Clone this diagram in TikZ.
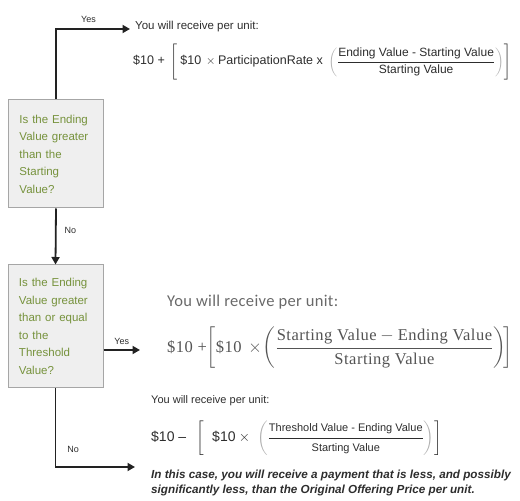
\documentclass[tikz,border=0pt]{standalone}
\usepackage{amsmath}
\usepackage{fontspec}
\setmainfont{Liberation Sans}
\newfontfamily\cambriaish[LetterSpace=3]{Liberation Serif}
\newfontfamily\calibriish[LetterSpace=2]{Carlito}
\usepackage{xcolor}
\usetikzlibrary{arrows.meta,positioning}
\definecolor{qgreen}{RGB}{118,146,60}
\definecolor{qfill}{RGB}{239,239,239}
\definecolor{qborder}{RGB}{166,166,166}
\definecolor{flowgray}{RGB}{34,34,34}
\definecolor{inkgray}{RGB}{45,45,45}
\definecolor{softgray}{RGB}{105,105,105}
\definecolor{parengray}{RGB}{175,175,175}
\newcommand\fracfont{\fontsize{12}{14}\selectfont}
\newcommand\smallfracfont{\fontsize{11}{13}\selectfont}
\newcommand\tallstrut{\vphantom{\rule[-14pt]{0pt}{33pt}}}

\begin{document}
\begin{tikzpicture}[
    x=1pt, y=1pt,
    question/.style={rectangle, draw=qborder, fill=qfill, line width=1pt, minimum width=95pt, text width=73pt, inner xsep=11pt, align=left, text=qgreen, font=\fontsize{11.5}{17.5}\selectfont},
    flow/.style={line width=1.8pt, draw=flowgray, -{Triangle[length=7.5pt, width=8pt]}},
    answer/.style={inner sep=0pt, text=inkgray, font=\fontsize{9}{10}\selectfont},
    payout/.style={anchor=west, inner sep=0pt, text=inkgray, font=\fontsize{12.5}{15}\selectfont}
]
    \useasboundingbox (0,0) rectangle (520,501);

    % Decisions
    \node[question, minimum height=108pt] (above) at (56,347) {Is the Ending\\Value greater\\than the\\Starting\\Value?};
    \node[question, minimum height=123pt] (threshold) at (55.5,174.5) {Is the Ending\\Value greater\\than or equal\\to the\\Threshold\\Value?};

    % Outcome 1
    \node[payout, font=\fontsize{11.5}{14}\selectfont] (receive1) at (135,474) {You will receive per unit:};
    \node[payout] (payout1) at (133,439) {$\text{\$10 +}\;\left[\tallstrut\;\text{\$10}\,\times\text{ParticipationRate x}\;\color{parengray}\left(\color{inkgray}\dfrac{\text{\fracfont Ending Value - Starting Value}}{\text{\fracfont Starting Value}}\color{parengray}\right)\color{inkgray}\right]$};

    % Outcome 2
    \node[payout, text=softgray, font=\calibriish\fontsize{16.5}{19}\selectfont] (receive2) at (167,199) {You will receive per unit:};
    \node[payout, text=softgray!80!black, font=\cambriaish\fontsize{16.5}{19}\selectfont] (payout2) at (167,153) {$\text{\$10 +}\biggl[\text{\$10}\,\times\!\biggl(\dfrac{\text{Starting Value} - \text{Ending Value}}{\text{Starting Value}}\biggr)\!\biggr]$};

    % Outcome 3
    \node[payout, font=\fontsize{11}{13}\selectfont] (receive3) at (151,100) {You will receive per unit:};
    \node[payout, font=\fontsize{14}{16}\selectfont] (payout3) at (151,63) {$\text{\$10 --}\;\;\left[\tallstrut\;\;\text{\$10}\times\;\color{parengray}\left(\color{inkgray}\dfrac{\text{\smallfracfont Threshold Value - Ending Value}}{\text{\smallfracfont Starting Value}}\color{parengray}\right)\color{inkgray}\right]$};
    \node[payout, align=left, font=\bfseries\itshape\fontsize{11.7}{14.5}\selectfont] (loss) at (151,18) {In this case, you will receive a payment that is less, and possibly\\significantly less, than the Original Offering Price per unit.};

    % Arrow ends
    \coordinate (yesend1) at (130,472);
    \coordinate (yesend2) at (140,151);
    \coordinate (noend2) at (135,34);

    \draw[flow] (above.north) |- node[answer, pos=0.72, above=6pt] (yes1) {Yes} (yesend1);
    \draw[flow] (above.south) -- node[answer, pos=0.4, right=8pt] (no1) {No} (threshold.north);
    \draw[flow] (threshold.east |- yesend2) -- node[answer, above=5pt] (yes2) {Yes} (yesend2);
    \draw[flow] (threshold.south) |- node[answer, pos=0.39, right=11pt] (no2) {No} (noend2);
\end{tikzpicture}
\end{document}
